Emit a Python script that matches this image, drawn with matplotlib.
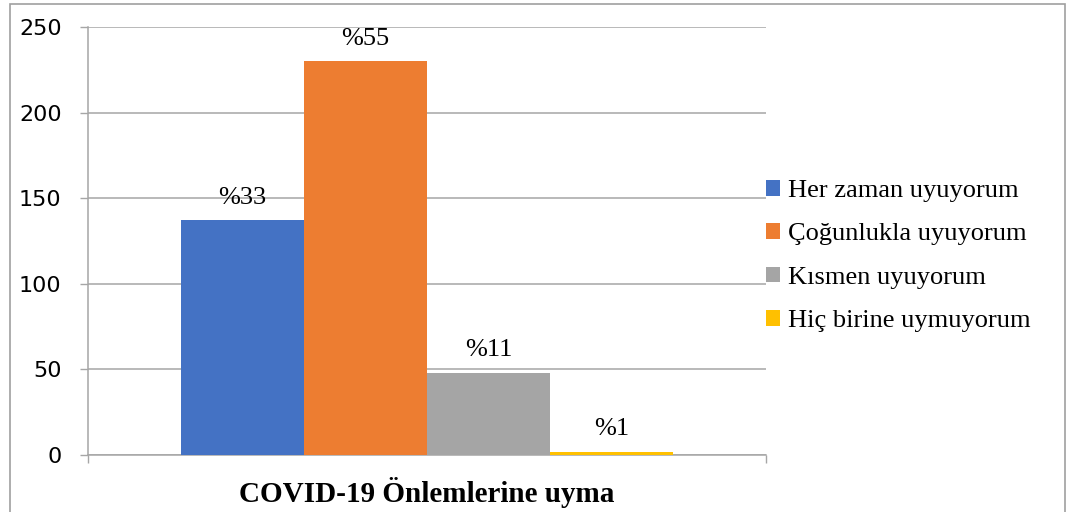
import matplotlib.pyplot as plt
from matplotlib.patches import Rectangle

# Veriler
kategoriler = ["Her zaman uyuyorum", "Çoğunlukla uyuyorum", "Kısmen uyuyorum", "Hiç birine uymuyorum"]
degerler = [137, 230, 48, 2]
yuzdeler = ["%33", "%55", "%11", "%1"]
grup = "COVID-19 Önlemlerine uyma"
renkler = ["#4472C4", "#ED7D31", "#A5A5A5", "#FFC000"]

W, H = 1068, 512
fig = plt.figure(figsize=(W / 100, H / 100), dpi=100)
ax = fig.add_axes([88 / W, 1 - 455 / H, (766 - 88) / W, (455 - 27) / H])

# cerceve
fig.patches.append(Rectangle((10 / W, -0.1), (1065 - 10) / W, 1.1 - 4 / H,
                             transform=fig.transFigure, fill=False,
                             edgecolor="#A0A0A0", linewidth=1.2))

gri = "#A6A6A6"
bw = 0.1814
konumlar = [(i - 1.5) * bw for i in range(len(degerler))]
cubuklar = ax.bar(konumlar, degerler, width=bw, color=renkler, label=kategoriler, zorder=3)

for x, v, t in zip(konumlar, degerler, yuzdeler):
    ax.annotate(t, (x, v), xytext=(0, 12), textcoords="offset points",
                ha="center", va="baseline", fontsize=19, family="Liberation Serif")

ax.set_xlim(-0.5, 0.5)
ax.set_ylim(0, 250)
ax.set_yticks(range(0, 251, 50))
ax.yaxis.grid(True, color=gri, linewidth=1.1, zorder=0)
ax.tick_params(axis="y", direction="out", length=6, width=1, color=gri, pad=13, labelsize=16)

ax.set_xticks([0])
ax.set_xticklabels([grup], fontsize=21, family="Liberation Serif", fontweight="bold")
ax.set_xticks([-0.5, 0.5], minor=True)
ax.tick_params(axis="x", which="major", length=0, pad=16)
ax.tick_params(axis="x", which="minor", direction="out", length=6, width=1, color=gri)

for s in ["top", "right"]:
    ax.spines[s].set_visible(False)
for s in ["left", "bottom"]:
    ax.spines[s].set_color(gri)
    ax.spines[s].set_linewidth(1.1)

fig.legend(handles=list(cubuklar), labels=kategoriler, loc="center left",
           bbox_to_anchor=(742 / W, 1 - 256 / H), frameon=False,
           prop={"family": "Liberation Serif", "size": 19},
           handlelength=0.55, handleheight=0.55, handletextpad=0.3, labelspacing=0.8)

fig.savefig("out.png", dpi=100)
